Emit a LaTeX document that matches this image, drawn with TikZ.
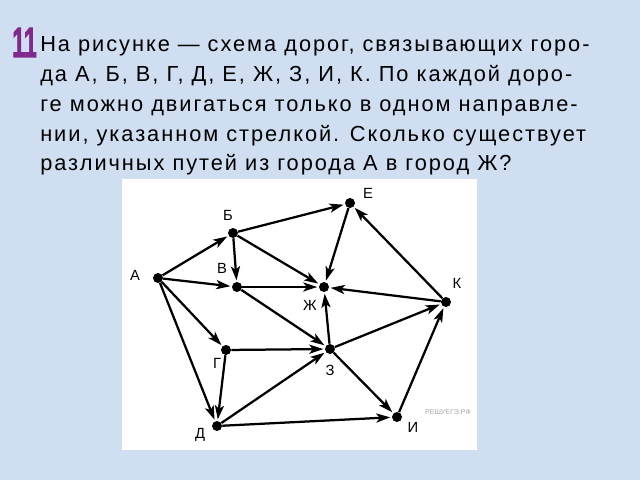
\documentclass[tikz,border=0pt]{standalone}
\usepackage{fontspec}
\setmainfont{Liberation Sans}
\newfontfamily\txtfont[LetterSpace=9]{Liberation Sans}
\newfontfamily\numfont[FakeBold=2.5]{Liberation Sans Bold}
\usetikzlibrary{arrows.meta}
\definecolor{bgblue}{RGB}{207,222,240}
\definecolor{numpurple}{RGB}{128,40,140}
\tikzset{city/.style={circle, fill=black, inner sep=0pt, minimum size=0.25cm},
 road/.style={line width=1.6pt, shorten >=1pt,
   -{Stealth[length=10pt, width=6.5pt, inset=2.5pt]}},
 lbl/.style={font=\fontsize{10.5}{12}\selectfont},
 line/.style={anchor=base west, inner sep=0pt,
   font=\txtfont\fontsize{15.5}{18}\selectfont},
 }

\begin{document}
\begin{tikzpicture}
        \useasboundingbox (0, 0) rectangle (16, 12);
        \fill[bgblue] (0, 0) rectangle (16, 12);
        \fill[white] (3.05, 0.75) rectangle (11.93, 7.53);
        % task text
        \node[anchor=base west, inner sep=0pt, text=numpurple,
          font=\numfont\fontsize{30}{32}\selectfont] (num) at (0.3, 10.575)
          {\scalebox{0.55}[1]{11}};
        \node[line] (l1) at (1, 10.7) {На рисунке — схема дорог, связывающих горо-};
        \node[line] (l2) at (1, 9.95) {да А, Б, В, Г, Д, Е, Ж, З, И, К. По каждой доро-};
        \node[line] (l3) at (1, 9.225) {ге можно двигаться только в одном направле-};
        \node[line] (l4) at (1, 8.475) {нии, указанном стрелкой. Сколько существует};
        \node[line] (l5) at (1, 7.75) {различных путей из города А в город Ж?};
        % cities
        \node[city] (a) at (3.95, 5.05) {};
        \node[city] (b) at (5.825, 6.175) {};
        \node[city] (v) at (5.925, 4.825) {};
        \node[city] (g) at (5.65, 3.25) {};
        \node[city] (d) at (5.425, 1.35) {};
        \node[city] (e) at (8.75, 6.925) {};
        \node[city] (zh) at (8.1, 4.825) {};
        \node[city] (z) at (8.25, 3.275) {};
        \node[city] (i) at (9.925, 1.575) {};
        \node[city] (k) at (11.15, 4.45) {};
        \node[lbl] at (3.375, 5.125) {А};
        \node[lbl] at (5.7, 6.625) {Б};
        \node[lbl] at (5.55, 5.3) {В};
        \node[lbl] at (5.425, 2.925) {Г};
        \node[lbl] at (5.0, 1.125) {Д};
        \node[lbl] at (9.2, 7.175) {Е};
        \node[lbl] at (7.75, 4.375) {Ж};
        \node[lbl] at (8.25, 2.75) {З};
        \node[lbl] at (10.325, 1.325) {И};
        \node[lbl] at (11.425, 4.925) {К};
        % roads
        \draw[road] (a) -- (b);
        \draw[road] (a) -- (v);
        \draw[road] (a) -- (g);
        \draw[road] (a) -- (d);
        \draw[road] (b) -- (e);
        \draw[road] (b) -- (v);
        \draw[road] (b) -- (zh);
        \draw[road] (v) -- (zh);
        \draw[road] (v) -- (z);
        \draw[road] (g) -- (z);
        \draw[road] (g) -- (d);
        \draw[road] (d) -- (z);
        \draw[road] (d) -- (i);
        \draw[road] (e) -- (zh);
        \draw[road] (k) -- (e);
        \draw[road] (k) -- (zh);
        \draw[road] (z) -- (zh);
        \draw[road] (z) -- (k);
        \draw[road] (z) -- (i);
        \draw[road] (i) -- (k);
        \node[text=black!35, font=\fontsize{5}{6}\selectfont] (mark) at (11.2, 1.7) {РЕШУЕГЭ.РФ};
    \end{tikzpicture}
\end{document}
